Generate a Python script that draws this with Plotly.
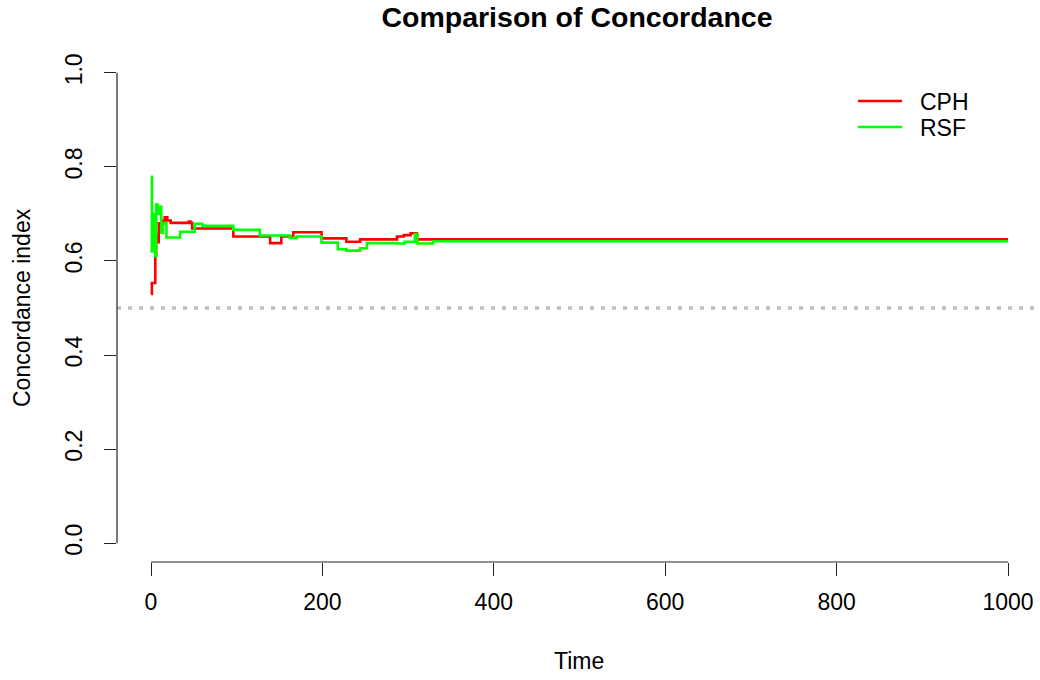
import plotly.graph_objects as go

# Concordance index over time for the two survival models (step functions)
cph_time = [0, 1, 5, 6, 8, 9, 11, 13, 16, 19, 23, 44, 46, 48, 96, 139, 152, 166,
            199, 228, 244, 250, 287, 295, 303, 310, 314, 1000]
cph_cindex = [0.530, 0.553, 0.613, 0.655, 0.640, 0.680, 0.660, 0.686, 0.693, 0.686,
              0.681, 0.684, 0.681, 0.669, 0.652, 0.638, 0.652, 0.661, 0.648, 0.641,
              0.646, 0.646, 0.652, 0.655, 0.659, 0.646, 0.646, 0.646]

rsf_time = [0, 1, 2, 3, 4, 5, 6, 8, 10, 12, 14, 18, 34, 51, 60, 96, 127, 162, 170,
            199, 218, 228, 244, 252, 287, 296, 308, 311, 329, 1000]
rsf_cindex = [0.779, 0.620, 0.700, 0.625, 0.690, 0.610, 0.720, 0.700, 0.715, 0.660,
              0.680, 0.650, 0.662, 0.679, 0.675, 0.666, 0.654, 0.649, 0.652, 0.639,
              0.625, 0.622, 0.627, 0.638, 0.637, 0.641, 0.657, 0.637, 0.642, 0.642]

series_names = ["CPH", "RSF"]
series_colors = ["#ff0000", "#00ff00"]
reference_level = 0.5

x_ticks = [0, 200, 400, 600, 800, 1000]
y_ticks = [0.0, 0.2, 0.4, 0.6, 0.8, 1.0]
y_tick_text = ["0.0", "0.2", "0.4", "0.6", "0.8", "1.0"]

W, H = 1040, 680
M_L, M_R, M_T, M_B = 117, 0, 54, 118
PW, PH = W - M_L - M_R, H - M_T - M_B

FONT = "Liberation Sans, Arial, sans-serif"
TXT = 23


def px_x(px):
    return (px - M_L) / PW


def px_y(py):
    return (H - M_B - py) / PH


fig = go.Figure()

for name, t, c, col in [(series_names[0], cph_time, cph_cindex, series_colors[0]),
                        (series_names[1], rsf_time, rsf_cindex, series_colors[1])]:
    fig.add_trace(go.Scatter(x=t, y=c, mode="lines", name=name,
                             line=dict(color=col, width=2.6, shape="hv"),
                             showlegend=False))

shapes = [
    # reference line at random concordance
    dict(type="line", xref="paper", x0=0, x1=1, yref="y",
         y0=reference_level, y1=reference_level,
         line=dict(color="#bebebe", width=3.5, dash="4px,7px"), layer="below"),
    # base-style axis lines spanning the tick range
    dict(type="line", xref="x", x0=x_ticks[0], x1=x_ticks[-1], yref="paper",
         y0=0, y1=0, line=dict(color="#222222", width=1.2)),
    dict(type="line", xref="paper", x0=0, x1=0, yref="y",
         y0=y_ticks[0], y1=y_ticks[-1], line=dict(color="#222222", width=1.2)),
]

annotations = []
# legend
for i, (name, col) in enumerate(zip(series_names, series_colors)):
    ly = 101 + 26 * i
    shapes.append(dict(type="line", xref="paper", yref="paper",
                       x0=px_x(858), x1=px_x(902), y0=px_y(ly), y1=px_y(ly),
                       line=dict(color=col, width=2.6)))
    annotations.append(dict(text=name, xref="paper", yref="paper",
                            x=px_x(918), y=px_y(ly + 1), xanchor="left",
                            yanchor="middle", showarrow=False,
                            font=dict(family=FONT, size=TXT, color="#000000")))

# axis titles
annotations.append(dict(text="Time", xref="paper", yref="paper",
                        x=px_x(579), y=px_y(661), xanchor="center",
                        yanchor="middle", showarrow=False,
                        font=dict(family=FONT, size=TXT, color="#000000")))
annotations.append(dict(text="Concordance index", xref="paper", yref="paper",
                        x=px_x(22), y=px_y(308), xanchor="center",
                        yanchor="middle", textangle=-90, showarrow=False,
                        font=dict(family=FONT, size=TXT, color="#000000")))

fig.update_layout(
    width=W, height=H,
    margin=dict(l=M_L, r=M_R, t=M_T, b=M_B, pad=0),
    paper_bgcolor="white", plot_bgcolor="white",
    title=dict(text="<b>Comparison of Concordance</b>", x=577 / W,
               xref="container", xanchor="center", y=1 - 17 / H,
               yref="container", yanchor="middle",
               font=dict(family=FONT, size=28.5, color="#000000")),
    shapes=shapes, annotations=annotations,
    showlegend=False,
)

fig.update_xaxes(range=[-39.67, 1037.3], tickvals=x_ticks,
                 ticktext=[str(v) for v in x_ticks],
                 ticks="outside", ticklen=13, tickwidth=1.2, tickcolor="#222222",
                 ticklabelstandoff=6,
                 showline=False, showgrid=False, zeroline=False,
                 automargin=False,
                 tickfont=dict(family=FONT, size=TXT, color="#000000"))
fig.update_yaxes(range=[-0.04, 1.04], tickvals=y_ticks, ticktext=y_tick_text,
                 tickangle=-90,
                 ticks="outside", ticklen=12, tickwidth=1.2, tickcolor="#222222",
                 ticklabelstandoff=13,
                 showline=False, showgrid=False, zeroline=False,
                 automargin=False,
                 tickfont=dict(family=FONT, size=TXT, color="#000000"))

fig.write_html("out.html")
